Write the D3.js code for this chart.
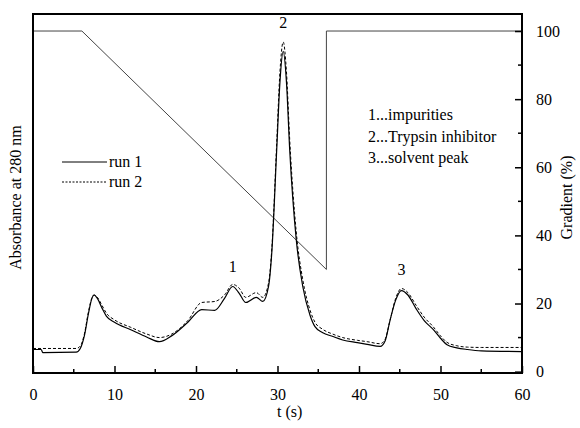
<!DOCTYPE html>
<html>
<head>
<meta charset="utf-8">
<script src="https://cdn.jsdelivr.net/npm/d3@7"></script>
<style>
  body { margin: 0; background: #fff; }
  text { font-family: "Liberation Serif", "Times New Roman", serif; fill: #000; }
</style>
</head>
<body>
<div id="chart"></div>
<script>
// time points (s) shared by both runs
var times = [0, 1, 1.2, 5.3, 5.8, 6.3, 6.8, 7.2, 7.5, 7.9, 8.5, 9, 10, 12, 14, 15.5, 17, 19, 20.7, 22.3, 23.5, 24.5,
    25.3, 26.1, 27.4, 28.2, 28.9, 29.3, 29.9, 30.3, 30.7, 31.1, 31.5, 32.3, 33.1, 34, 34.6, 35.5,
    36.8, 38, 39.8, 41, 42.6, 43.2, 43.8, 44.5, 45.2, 46, 47, 48, 49.1, 50, 50.8, 52, 53.3, 55, 60];

var run1 = [6.5, 6.5, 5.6, 5.7, 6.8, 10.5, 17, 21.3, 22.5, 21.5, 18.5, 16.3, 14.5, 12.3, 10.1, 8.8, 10.5, 14.5, 18.2, 18, 21.5, 25,
    23, 20.3, 21.8, 20.6, 25, 35, 65, 85, 94, 85, 65, 38.8, 25, 16.5, 13.2, 11.5,
    10.3, 9.3, 8.5, 8, 7.4, 9, 15, 21, 23.8, 22.5, 18.5, 15, 12.4, 9.8, 7.9, 7, 6.5, 6.1, 5.9];

var run2 = [6.8, 6.8, 6.8, 6.8, 7.5, 11, 17.5, 21.5, 22.5, 21.8, 19.3, 17.2, 15.2, 13, 11, 10, 11, 15, 20.3, 20.6, 22.5, 25.6,
    24.5, 21.8, 23.2, 21.8, 26, 36, 67, 88, 96.8, 88, 68, 41, 27, 18, 14.5, 12.5,
    11, 10, 9.2, 8.8, 8.2, 9.5, 15, 21.5, 24.4, 23.2, 19.5, 16, 13.2, 10.5, 8.6, 7.6, 7.2, 7.1, 7.1];

// solvent gradient (%)
var gradT = [0, 6, 36, 36, 60];
var gradV = [100, 100, 30, 100, 100];

var xTicks = [0, 10, 20, 30, 40, 50, 60];
var yTicks = [0, 20, 40, 60, 80, 100];

var peakLabels = [{t: 24.5, v: 25, label: '1'}, {t: 30.7, v: 96.8, label: '2'}, {t: 45.2, v: 24.4, label: '3'}];
var notes = ['1...impurities', '2...Trypsin inhibitor', '3...solvent peak'];
var runNames = ['run 1', 'run 2'];

var W = 580, H = 428;
var margin = {top: 14, right: 58, bottom: 55, left: 33};
var width = W - margin.left - margin.right,
    height = H - margin.top - margin.bottom;

var x = d3.scaleLinear().domain([0, 60]).range([0, width]);
// bottom of the plot sits a bit under 0 on the gradient axis
var y = d3.scaleLinear().domain([-0.4, 105]).range([height, 0]);

var svg = d3.select('#chart').append('svg')
    .attr('width', W).attr('height', H);
var g = svg.append('g')
    .attr('transform', 'translate(' + margin.left + ',' + margin.top + ')');

// gradient line
var gradData = gradT.map(function(t, i) { return {t: t, v: gradV[i]}; });
g.append('path')
    .datum(gradData)
    .attr('fill', 'none')
    .attr('stroke', '#444')
    .attr('stroke-width', 1)
    .attr('d', d3.line().x(function(d) { return x(d.t); }).y(function(d) { return y(d.v); }));

var line = d3.line()
    .curve(d3.curveMonotoneX)
    .x(function(d) { return x(d.t); })
    .y(function(d) { return y(d.v); });

var d1 = times.map(function(t, i) { return {t: t, v: run1[i]}; });
var d2 = times.map(function(t, i) { return {t: t, v: run2[i]}; });

g.append('path').datum(d2)
    .attr('fill', 'none').attr('stroke', '#000').attr('stroke-width', 1)
    .attr('stroke-dasharray', '3,2')
    .attr('d', line);
g.append('path').datum(d1)
    .attr('fill', 'none').attr('stroke', '#000').attr('stroke-width', 1.2)
    .attr('d', line);

// frame
g.append('rect')
    .attr('width', width).attr('height', height)
    .attr('fill', 'none').attr('stroke', '#000').attr('stroke-width', 2);

// bottom axis (ticks inside)
var xAxis = g.append('g')
    .attr('transform', 'translate(0,' + height + ')')
    .call(d3.axisBottom(x).tickValues(xTicks).tickSize(-7).tickPadding(16).tickFormat(d3.format('d')));
xAxis.select('.domain').remove();
xAxis.selectAll('line').attr('stroke-width', 1.5);
xAxis.selectAll('text').style('font-size', '16px').style('font-family', '"Liberation Serif", serif');
g.append('g').attr('transform', 'translate(0,' + height + ')')
    .selectAll('line').data(d3.range(5, 60, 10)).enter().append('line')
    .attr('x1', function(d) { return x(d); }).attr('x2', function(d) { return x(d); })
    .attr('y1', 0).attr('y2', -4).attr('stroke', '#000').attr('stroke-width', 1.5);

// right axis (ticks inside)
var yAxis = g.append('g')
    .attr('transform', 'translate(' + width + ',0)')
    .call(d3.axisRight(y).tickValues(yTicks).tickSize(-7).tickPadding(14));
yAxis.select('.domain').remove();
yAxis.selectAll('line').attr('stroke-width', 1.5);
yAxis.selectAll('text').style('font-size', '16px').style('font-family', '"Liberation Serif", serif');
g.append('g').attr('transform', 'translate(' + width + ',0)')
    .selectAll('line').data(d3.range(10, 101, 20)).enter().append('line')
    .attr('y1', function(d) { return y(d); }).attr('y2', function(d) { return y(d); })
    .attr('x1', 0).attr('x2', -4).attr('stroke', '#000').attr('stroke-width', 1.5);

// axis titles
svg.append('text')
    .attr('x', margin.left + x(31.5)).attr('y', 417)
    .attr('text-anchor', 'middle').style('font-size', '16px')
    .text('t (s)');
svg.append('text')
    .attr('transform', 'translate(21,' + (margin.top + height / 2 + 4) + ') rotate(-90)')
    .attr('text-anchor', 'middle').style('font-size', '16px')
    .text('Absorbance at 280 nm');
svg.append('text')
    .attr('transform', 'translate(572,' + (margin.top + height / 2 + 4) + ') rotate(-90)')
    .attr('text-anchor', 'middle').style('font-size', '16px')
    .text('Gradient (%)');

// peak numbers
g.selectAll('.peak').data(peakLabels).enter().append('text')
    .attr('class', 'peak')
    .attr('x', function(d) { return x(d.t); })
    .attr('y', function(d) { return y(d.v) - 14; })
    .attr('text-anchor', 'middle').style('font-size', '16px')
    .text(function(d) { return d.label; });

// notes
g.selectAll('.note').data(notes).enter().append('text')
    .attr('class', 'note')
    .attr('x', 335).attr('y', function(d, i) { return 106 + i * 21.5; })
    .style('font-size', '16px')
    .text(function(d) { return d; });

// legend
var leg = g.append('g').attr('transform', 'translate(29,148)');
runNames.forEach(function(name, i) {
    leg.append('line')
        .attr('x1', 0).attr('x2', 45).attr('y1', i * 20).attr('y2', i * 20)
        .attr('stroke', '#000').attr('stroke-width', 1)
        .attr('stroke-dasharray', i === 0 ? null : '2,1.5');
    leg.append('text')
        .attr('x', 47).attr('y', i * 20 + 5)
        .style('font-size', '16px')
        .text(name);
});
</script>
</body>
</html>
